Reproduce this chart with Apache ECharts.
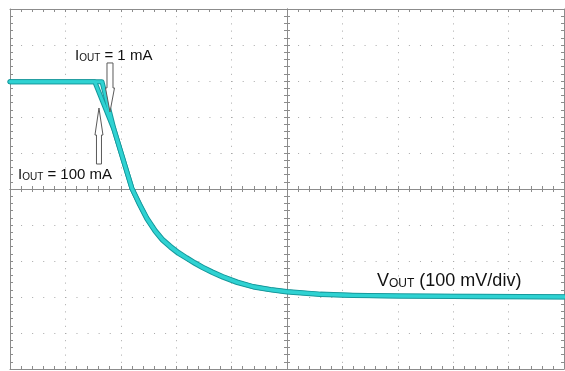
<!DOCTYPE html>
<html>
<head>
<meta charset="utf-8">
<script src="https://cdn.jsdelivr.net/npm/echarts@6/dist/echarts.min.js"></script>
<style>
html,body{margin:0;padding:0;background:#fff;}
#chart{width:565px;height:371px;}
</style>
</head>
<body>
<div id="chart"></div>
<script>
// Horizontal divisions (time) and vertical divisions (100 mV/div), centred on screen centre
const xTicks = [-5, -4, -3, -2, -1, 0, 1, 2, 3, 4, 5];
const yTicks = [-5, -4, -3, -2, -1, 0, 1, 2, 3, 4, 5];

// Trace with IOUT = 100 mA
const trace100mA_x = [-5.00, -3.47, -3.12, -2.80, -2.66, -2.53, -2.38, -2.25, -2.11, -1.96, -1.81, -1.66, -1.52, -1.35, -1.16, -0.90, -0.61, -0.30, 0.00, 0.60, 1.19, 2.04, 3.48, 5.00];
const trace100mA_y = [2.98, 2.98, 1.64, 0.02, -0.42, -0.80, -1.15, -1.39, -1.58, -1.76, -1.91, -2.05, -2.17, -2.30, -2.43, -2.58, -2.71, -2.79, -2.85, -2.92, -2.95, -2.97, -2.98, -2.99];
// Trace with IOUT = 1 mA
const trace1mA_x = [-5.00, -3.34, -3.12, -2.80, -2.66, -2.53, -2.38, -2.25, -2.11, -1.96, -1.81, -1.66, -1.52, -1.35, -1.16, -0.90, -0.61, -0.30, 0.00, 0.60, 1.19, 2.04, 3.48, 5.00];
const trace1mA_y = [2.98, 2.98, 1.64, 0.02, -0.44, -0.83, -1.18, -1.42, -1.61, -1.79, -1.93, -2.07, -2.19, -2.32, -2.45, -2.60, -2.72, -2.80, -2.86, -2.93, -2.96, -2.97, -2.99, -3.00];

// Annotation arrows: tip position (divisions), direction (1 = pointing down, -1 = pointing up)
const arrowTipX = [-3.195, -3.394];
const arrowTipY = [2.14, 2.25];
const arrowDir = [1, -1];

const gridColor = '#8c8c8c';
const dotColor = '#a8a8a8';

function pairs(xs, ys) { return xs.map((x, i) => [x, ys[i]]); }

function axisBase(extra) {
  return Object.assign({
    type: 'value', min: xTicks[0], max: xTicks[xTicks.length - 1], interval: 1,
    axisLabel: { show: false },
    splitLine: { show: false },
    axisLine: { show: true, onZero: false, lineStyle: { color: gridColor, width: 1 } },
    axisTick: { show: true, inside: true, length: 3, lineStyle: { color: gridColor } },
    minorTick: { show: true, splitNumber: 5, length: 3, lineStyle: { color: gridColor } },
    axisPointer: { show: false }
  }, extra);
}

const chart = echarts.init(document.getElementById('chart'), null, { renderer: 'canvas' });

const xAxes = [
  axisBase({ position: 'bottom', splitLine: { show: true, lineStyle: { color: dotColor, width: 1, type: [1, 6.2] } } }),
  axisBase({ position: 'top' }),
  axisBase({ position: 'bottom', axisLine: { show: true, onZero: true, onZeroAxisIndex: 0, lineStyle: { color: gridColor } } }),
  axisBase({ position: 'bottom', axisLine: { show: true, onZero: true, onZeroAxisIndex: 0, lineStyle: { color: gridColor } }, axisTick: { show: true, inside: false, length: 3, lineStyle: { color: gridColor } } })
];
const yAxes = [
  axisBase({ min: yTicks[0], max: yTicks[yTicks.length - 1], position: 'left', splitLine: { show: true, lineStyle: { color: dotColor, width: 1, type: [1, 10.08] } } }),
  axisBase({ min: yTicks[0], max: yTicks[yTicks.length - 1], position: 'right' }),
  axisBase({ min: yTicks[0], max: yTicks[yTicks.length - 1], position: 'left', axisLine: { show: true, onZero: true, onZeroAxisIndex: 0, lineStyle: { color: gridColor } } }),
  axisBase({ min: yTicks[0], max: yTicks[yTicks.length - 1], position: 'left', axisLine: { show: true, onZero: true, onZeroAxisIndex: 0, lineStyle: { color: gridColor } }, axisTick: { show: true, inside: false, length: 3, lineStyle: { color: gridColor } } })
];

function traceSeries(xs, ys, color, width, z) {
  return {
    type: 'line', xAxisIndex: 0, yAxisIndex: 0, data: pairs(xs, ys),
    showSymbol: false, symbol: 'none', smooth: false, z: z, silent: true,
    lineStyle: { color: color, width: width, cap: 'round', join: 'round' }
  };
}

const arrowSeries = {
  type: 'custom', xAxisIndex: 0, yAxisIndex: 0, z: 10, silent: true,
  data: arrowTipX.map((x, i) => [x, arrowTipY[i], arrowDir[i]]),
  renderItem: function (params, api) {
    const tip = api.coord([api.value(0), api.value(1)]);
    const d = api.value(2);
    const hl = d > 0 ? 24 : 27, hw = d > 0 ? 4.5 : 4, sw = d > 0 ? 3 : 2.5, sl = d > 0 ? 25 : 29;
    const pts = [[0, 0], [-hw, -hl], [-sw, -hl], [-sw, -hl - sl], [sw, -hl - sl], [sw, -hl], [hw, -hl]]
      .map(p => [tip[0] + p[0], tip[1] + p[1] * d]);
    return { type: 'polygon', shape: { points: pts }, style: { fill: '#ffffff', stroke: '#5a5a5a', lineWidth: 1 } };
  }
};

const font = 'Liberation Sans, Arial, sans-serif';
function label(x, y, main, sub, rest, size, subSize) {
  return {
    type: 'text', x: x, y: y, z: 20, silent: true,
    style: {
      text: '{a|' + main + '}{b|' + sub + '}{a|' + rest + '}',
      fill: '#111',
      rich: {
        a: { fontFamily: font, fontSize: size, fill: '#111', verticalAlign: 'bottom', lineHeight: size + 2 },
        b: { fontFamily: font, fontSize: subSize, fill: '#111', verticalAlign: 'bottom', lineHeight: size + 2 }
      }
    }
  };
}

chart.setOption({
  animation: false,
  backgroundColor: '#ffffff',
  grid: { left: 10, right: 1, top: 9, bottom: 2, containLabel: false },
  xAxis: xAxes,
  yAxis: yAxes,
  series: [
    traceSeries(trace100mA_x, trace100mA_y, '#17999c', 5, 2),
    traceSeries(trace1mA_x, trace1mA_y, '#17999c', 5, 2),
    traceSeries(trace100mA_x, trace100mA_y, '#2fd2d2', 3, 3),
    traceSeries(trace1mA_x, trace1mA_y, '#2fd2d2', 3, 3),
    arrowSeries
  ],
  graphic: [
    label(75, 46, 'I', 'OUT', ' = 1 mA', 15, 10),
    label(18, 165, 'I', 'OUT', ' = 100 mA', 15, 10),
    label(377, 270, 'V', 'OUT', ' (100 mV/div)', 18, 12)
  ]
});
</script>
</body>
</html>
